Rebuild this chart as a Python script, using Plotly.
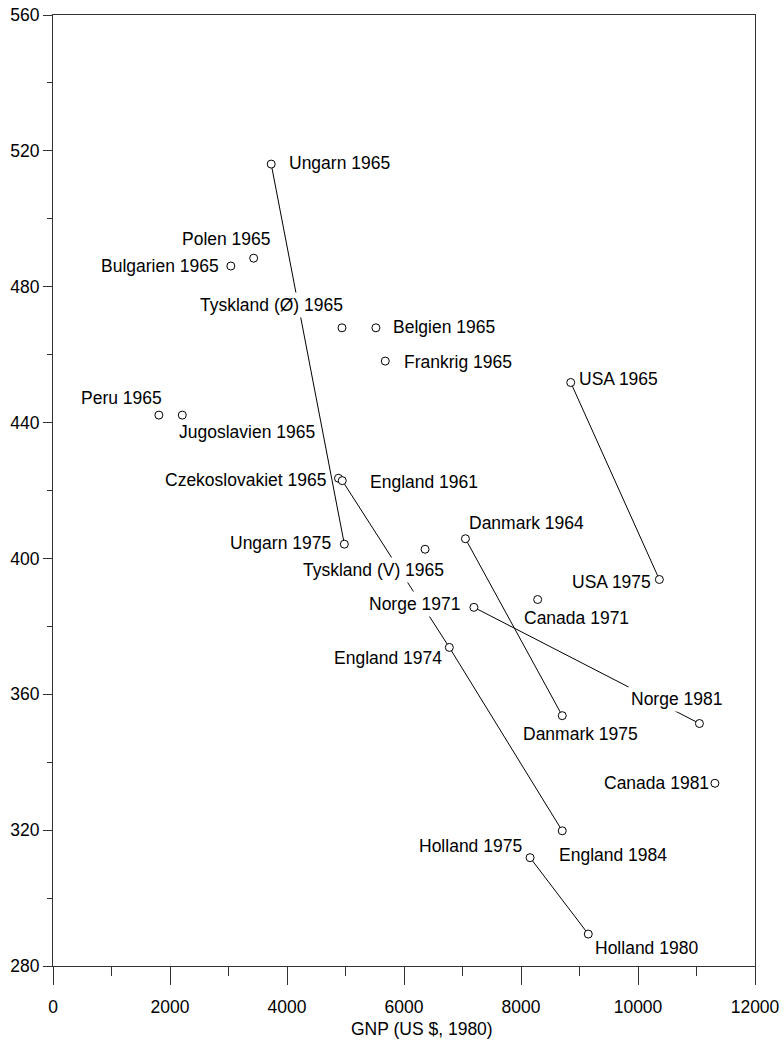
import plotly.graph_objects as go

# ---- data ----
point_labels = [
    "Ungarn 1965", "Ungarn 1975",
    "Polen 1965", "Bulgarien 1965", "Tyskland (Ø) 1965", "Belgien 1965",
    "Frankrig 1965", "Peru 1965", "Jugoslavien 1965", "Czekoslovakiet 1965",
    "England 1961", "England 1974", "England 1984",
    "Tyskland (V) 1965",
    "Danmark 1964", "Danmark 1975",
    "USA 1965", "USA 1975",
    "Norge 1971", "Norge 1981",
    "Canada 1971", "Canada 1981",
    "Holland 1975", "Holland 1980",
]
gnp = [
    3730, 4980,
    3430, 3040, 4940, 5520,
    5680, 1810, 2210, 4880,
    4945, 6775, 8705,
    6360,
    7050, 8705,
    8850, 10365,
    7195, 11050,
    8285, 11315,
    8155, 9150,
]
score = [
    516.1, 404.2,
    488.4, 486.1, 467.9, 467.9,
    458.1, 442.2, 442.2, 423.6,
    422.9, 373.8, 319.8,
    402.7,
    405.8, 353.7,
    451.8, 393.8,
    385.6, 351.4,
    387.9, 333.8,
    311.9, 289.4,
]
connected = [
    ["Ungarn 1965", "Ungarn 1975"],
    ["England 1961", "England 1974", "England 1984"],
    ["Danmark 1964", "Danmark 1975"],
    ["USA 1965", "USA 1975"],
    ["Norge 1971", "Norge 1981"],
    ["Holland 1975", "Holland 1980"],
]
x_ticks = [0, 2000, 4000, 6000, 8000, 10000, 12000]
x_tick_text = ["0", "2000", "4000", "6000", "8000", "10000", "12000"]
y_ticks = [280, 320, 360, 400, 440, 480, 520, 560]
y_tick_text = ["280", "320", "360", "400", "440", "480", "520", "560"]
x_title = "GNP (US $, 1980)"

# ---- label placement (styling: anchor, pixel offsets, mask) ----
label_style = {
    "Ungarn 1965": ("left", 17, 1, False),
    "Ungarn 1975": ("right", -12.5, 1, False),
    "Polen 1965": ("right", 18, 19.5, False),
    "Bulgarien 1965": ("right", -10.5, 0, False),
    "Tyskland (Ø) 1965": ("right", 4.5, 22.5, True),
    "Belgien 1965": ("left", 16, 0.5, False),
    "Frankrig 1965": ("left", 18, -0.5, False),
    "Peru 1965": ("right", 4, 17, False),
    "Jugoslavien 1965": ("left", -4.5, -16.5, False),
    "Czekoslovakiet 1965": ("right", -11.5, -1.5, False),
    "England 1961": ("left", 27, -1, False),
    "England 1974": ("right", -6.5, -11, False),
    "England 1984": ("left", -4.5, -24.5, False),
    "Tyskland (V) 1965": ("right", 21.5, -20.5, True),
    "Danmark 1964": ("left", 2.5, 15.5, False),
    "Danmark 1975": ("left", -40.5, -18.5, False),
    "USA 1965": ("left", 7, 3, False),
    "USA 1975": ("right", -7, -2.5, False),
    "Norge 1971": ("right", -10.5, 3, True),
    "Norge 1981": ("left", -71.5, 25, True),
    "Canada 1971": ("left", -14.5, -18, False),
    "Canada 1981": ("right", -4.5, 0, False),
    "Holland 1975": ("right", -7.5, 11.5, False),
    "Holland 1980": ("left", 6, -13.5, False),
}

FONT = "Liberation Sans, Arial, Helvetica, sans-serif"
lookup = {lab: (gx, sy) for lab, gx, sy in zip(point_labels, gnp, score)}

fig = go.Figure()

for group in connected:
    fig.add_trace(go.Scatter(
        x=[lookup[g][0] for g in group],
        y=[lookup[g][1] for g in group],
        mode="lines",
        line=dict(color="black", width=1),
        hoverinfo="skip",
        showlegend=False,
    ))

fig.add_trace(go.Scatter(
    x=gnp, y=score, mode="markers",
    marker=dict(symbol="circle", size=8, color="white",
                line=dict(color="black", width=1)),
    text=point_labels, hoverinfo="text",
    showlegend=False,
))

for lab, gx, sy in zip(point_labels, gnp, score):
    anchor, dx, dy, mask = label_style[lab]
    fig.add_annotation(
        x=gx, y=sy, xref="x", yref="y", text=lab, showarrow=False,
        xanchor=anchor, yanchor="middle", xshift=dx, yshift=dy,
        font=dict(family=FONT, size=17.5, color="black"),
        bgcolor="white" if mask else "rgba(0,0,0,0)",
        borderpad=2 if mask else 0,
    )

fig.add_annotation(
    x=0.5, y=0, xref="paper", yref="paper", text=x_title, showarrow=False,
    xanchor="center", yanchor="middle", xshift=18, yshift=-63,
    font=dict(family=FONT, size=17.5, color="black"),
)

axis_common = dict(
    showgrid=False, zeroline=False, showline=True, linecolor="#333",
    linewidth=1, mirror=True, ticks="outside", tickcolor="#333",
    tickwidth=1, tickfont=dict(family=FONT, size=17.5, color="black"),
)
fig.update_xaxes(range=[0, 12000], tickvals=x_ticks, ticktext=x_tick_text,
                 ticklen=18, ticklabelstandoff=7,
                 minor=dict(dtick=1000, tick0=0, ticklen=9, ticks="outside",
                            tickcolor="#333", showgrid=False),
                 **axis_common)
fig.update_yaxes(range=[280, 560], tickvals=y_ticks, ticktext=y_tick_text,
                 ticklen=9,
                 minor=dict(dtick=20, tick0=280, ticklen=5, ticks="outside",
                            tickcolor="#333", showgrid=False),
                 **axis_common)

fig.update_layout(
    width=784, height=1049,
    margin=dict(l=53, r=29, t=15, b=83, autoexpand=False),
    plot_bgcolor="white", paper_bgcolor="white",
    font=dict(family=FONT, size=17.5, color="black"),
    showlegend=False,
)

# remove the page's default 8px body margin so the figure fills the window
fig.write_html("out.html",
               config={"displayModeBar": False},
               post_script="document.body.style.margin='0';"
                           "document.body.style.overflow='hidden';")
